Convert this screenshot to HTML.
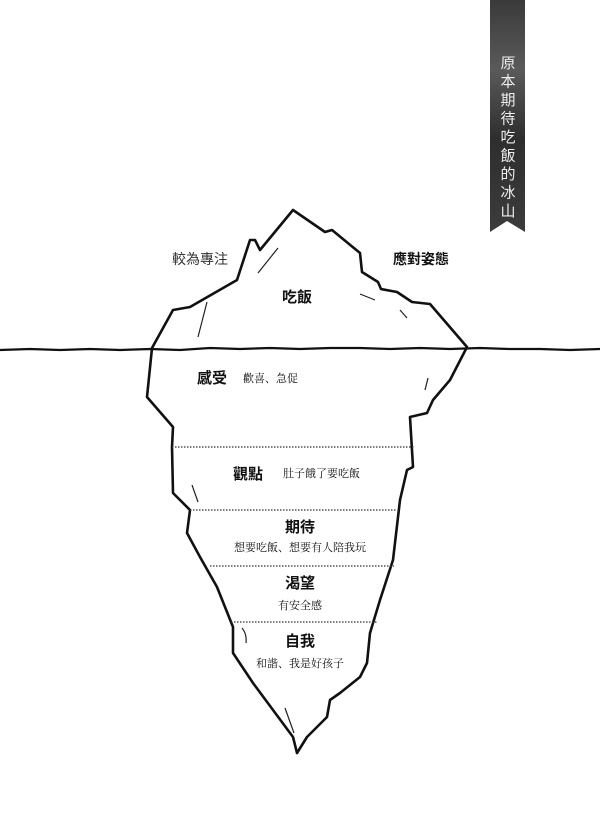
<!DOCTYPE html>
<html><head><meta charset="utf-8"><style>
html,body{margin:0;padding:0;background:#fff;}
body{width:600px;height:834px;position:relative;overflow:hidden;font-family:"Liberation Sans","Noto Sans CJK TC",sans-serif;}
svg{position:absolute;left:0;top:0;}
</style></head><body>
<svg width="600" height="834" viewBox="0 0 600 834" xmlns="http://www.w3.org/2000/svg">
<defs><linearGradient id="g" x1="0" y1="0" x2="0" y2="1"><stop offset="0" stop-color="#3a3a3a"/><stop offset="0.3" stop-color="#5a5a5a"/><stop offset="0.6" stop-color="#2e2e2e"/><stop offset="1" stop-color="#3c3c3c"/></linearGradient></defs>
<polygon points="490,0 525,0 525,232 507,221 490,232" fill="url(#g)"/>
<text font-family="'Noto Sans CJK TC',sans-serif" font-size="15" fill="#eee" text-anchor="middle">
<tspan x="508" y="68">原</tspan><tspan x="508" y="86.5">本</tspan><tspan x="508" y="105">期</tspan><tspan x="508" y="123.5">待</tspan><tspan x="508" y="142">吃</tspan><tspan x="508" y="160.5">飯</tspan><tspan x="508" y="179">的</tspan><tspan x="508" y="197.5">冰</tspan><tspan x="508" y="216">山</tspan></text>
<g fill="none" stroke="#111" stroke-width="2.6" stroke-linejoin="round" stroke-linecap="round">
<path d="M152,348 L173,310 L190,307 L237,280 L250,240 L255,240 L260,250 L293,210 L325,232 L332,230 L360,253 L362,272 L378,282 L381,289 L397,292 L412,302 L430,304 L467,347 L450,380 L433,400 L427,413 L410,417 L413,467 L407,470 L400,500 L393,560 L380,600 L370,633 L367,663 L360,677 L340,693 L330,700 L327,717 L307,737 L297,753 L293,737 L273,710 L253,683 L233,653 L233,627 L217,587 L200,557 L187,533 L190,510 L173,493 L172,447 L173,427 L147,397 Z"/>
<path d="M0,350 L30,349 L60,350 L90,349 L120,350 L150,349 L180,350 L210,348 L240,349 L270,348 L300,349 L330,348 L360,348 L390,349 L420,348 L450,349 L480,348 L510,349 L540,349 L570,350 L600,349" stroke-width="2.2"/>
</g>
<g stroke="#222" stroke-width="1.2" fill="none">
<line x1="207" y1="302" x2="198" y2="337"/><line x1="278" y1="248" x2="258" y2="273"/><line x1="360" y1="294" x2="375" y2="300"/><line x1="400" y1="310" x2="407" y2="318"/><line x1="428" y1="378" x2="425" y2="390"/><line x1="192" y1="485" x2="198" y2="502"/><path d="M242,628 Q247,634 246,643"/><line x1="285" y1="708" x2="294" y2="733"/>
</g>
<g stroke="#333" stroke-width="1.2" stroke-dasharray="1.5,1.5">
<line x1="172" y1="447" x2="414" y2="447"/><line x1="190" y1="510" x2="397" y2="510"/><line x1="210" y1="566" x2="394" y2="566"/><line x1="231" y1="622" x2="378" y2="622"/>
</g>
<g font-family="'Noto Sans CJK TC',sans-serif" fill="#111">
<text x="297" y="302" font-size="15" font-weight="bold" text-anchor="middle">吃飯</text>
<text x="172" y="264" font-size="14" fill="#333">較為專注</text>
<text x="393" y="264" font-size="14" font-weight="bold">應對姿態</text>
<text x="197" y="383" font-size="15" font-weight="bold">感受</text>
<text x="243" y="382" font-size="11" font-family="'Noto Serif CJK SC',serif">歡喜、急促</text>
<text x="233" y="479" font-size="15" font-weight="bold">觀點</text>
<text x="283" y="477" font-size="11" font-family="'Noto Serif CJK SC',serif">肚子餓了要吃飯</text>
<text x="300" y="532" font-size="15" font-weight="bold" text-anchor="middle">期待</text>
<text x="300" y="551" font-size="11" text-anchor="middle" font-family="'Noto Serif CJK SC',serif">想要吃飯、想要有人陪我玩</text>
<text x="300" y="588" font-size="15" font-weight="bold" text-anchor="middle">渴望</text>
<text x="300" y="609" font-size="11" text-anchor="middle" font-family="'Noto Serif CJK SC',serif">有安全感</text>
<text x="300" y="646" font-size="15" font-weight="bold" text-anchor="middle">自我</text>
<text x="300" y="667" font-size="11" text-anchor="middle" font-family="'Noto Serif CJK SC',serif">和諧、我是好孩子</text>
</g>
</svg>
</body></html>
